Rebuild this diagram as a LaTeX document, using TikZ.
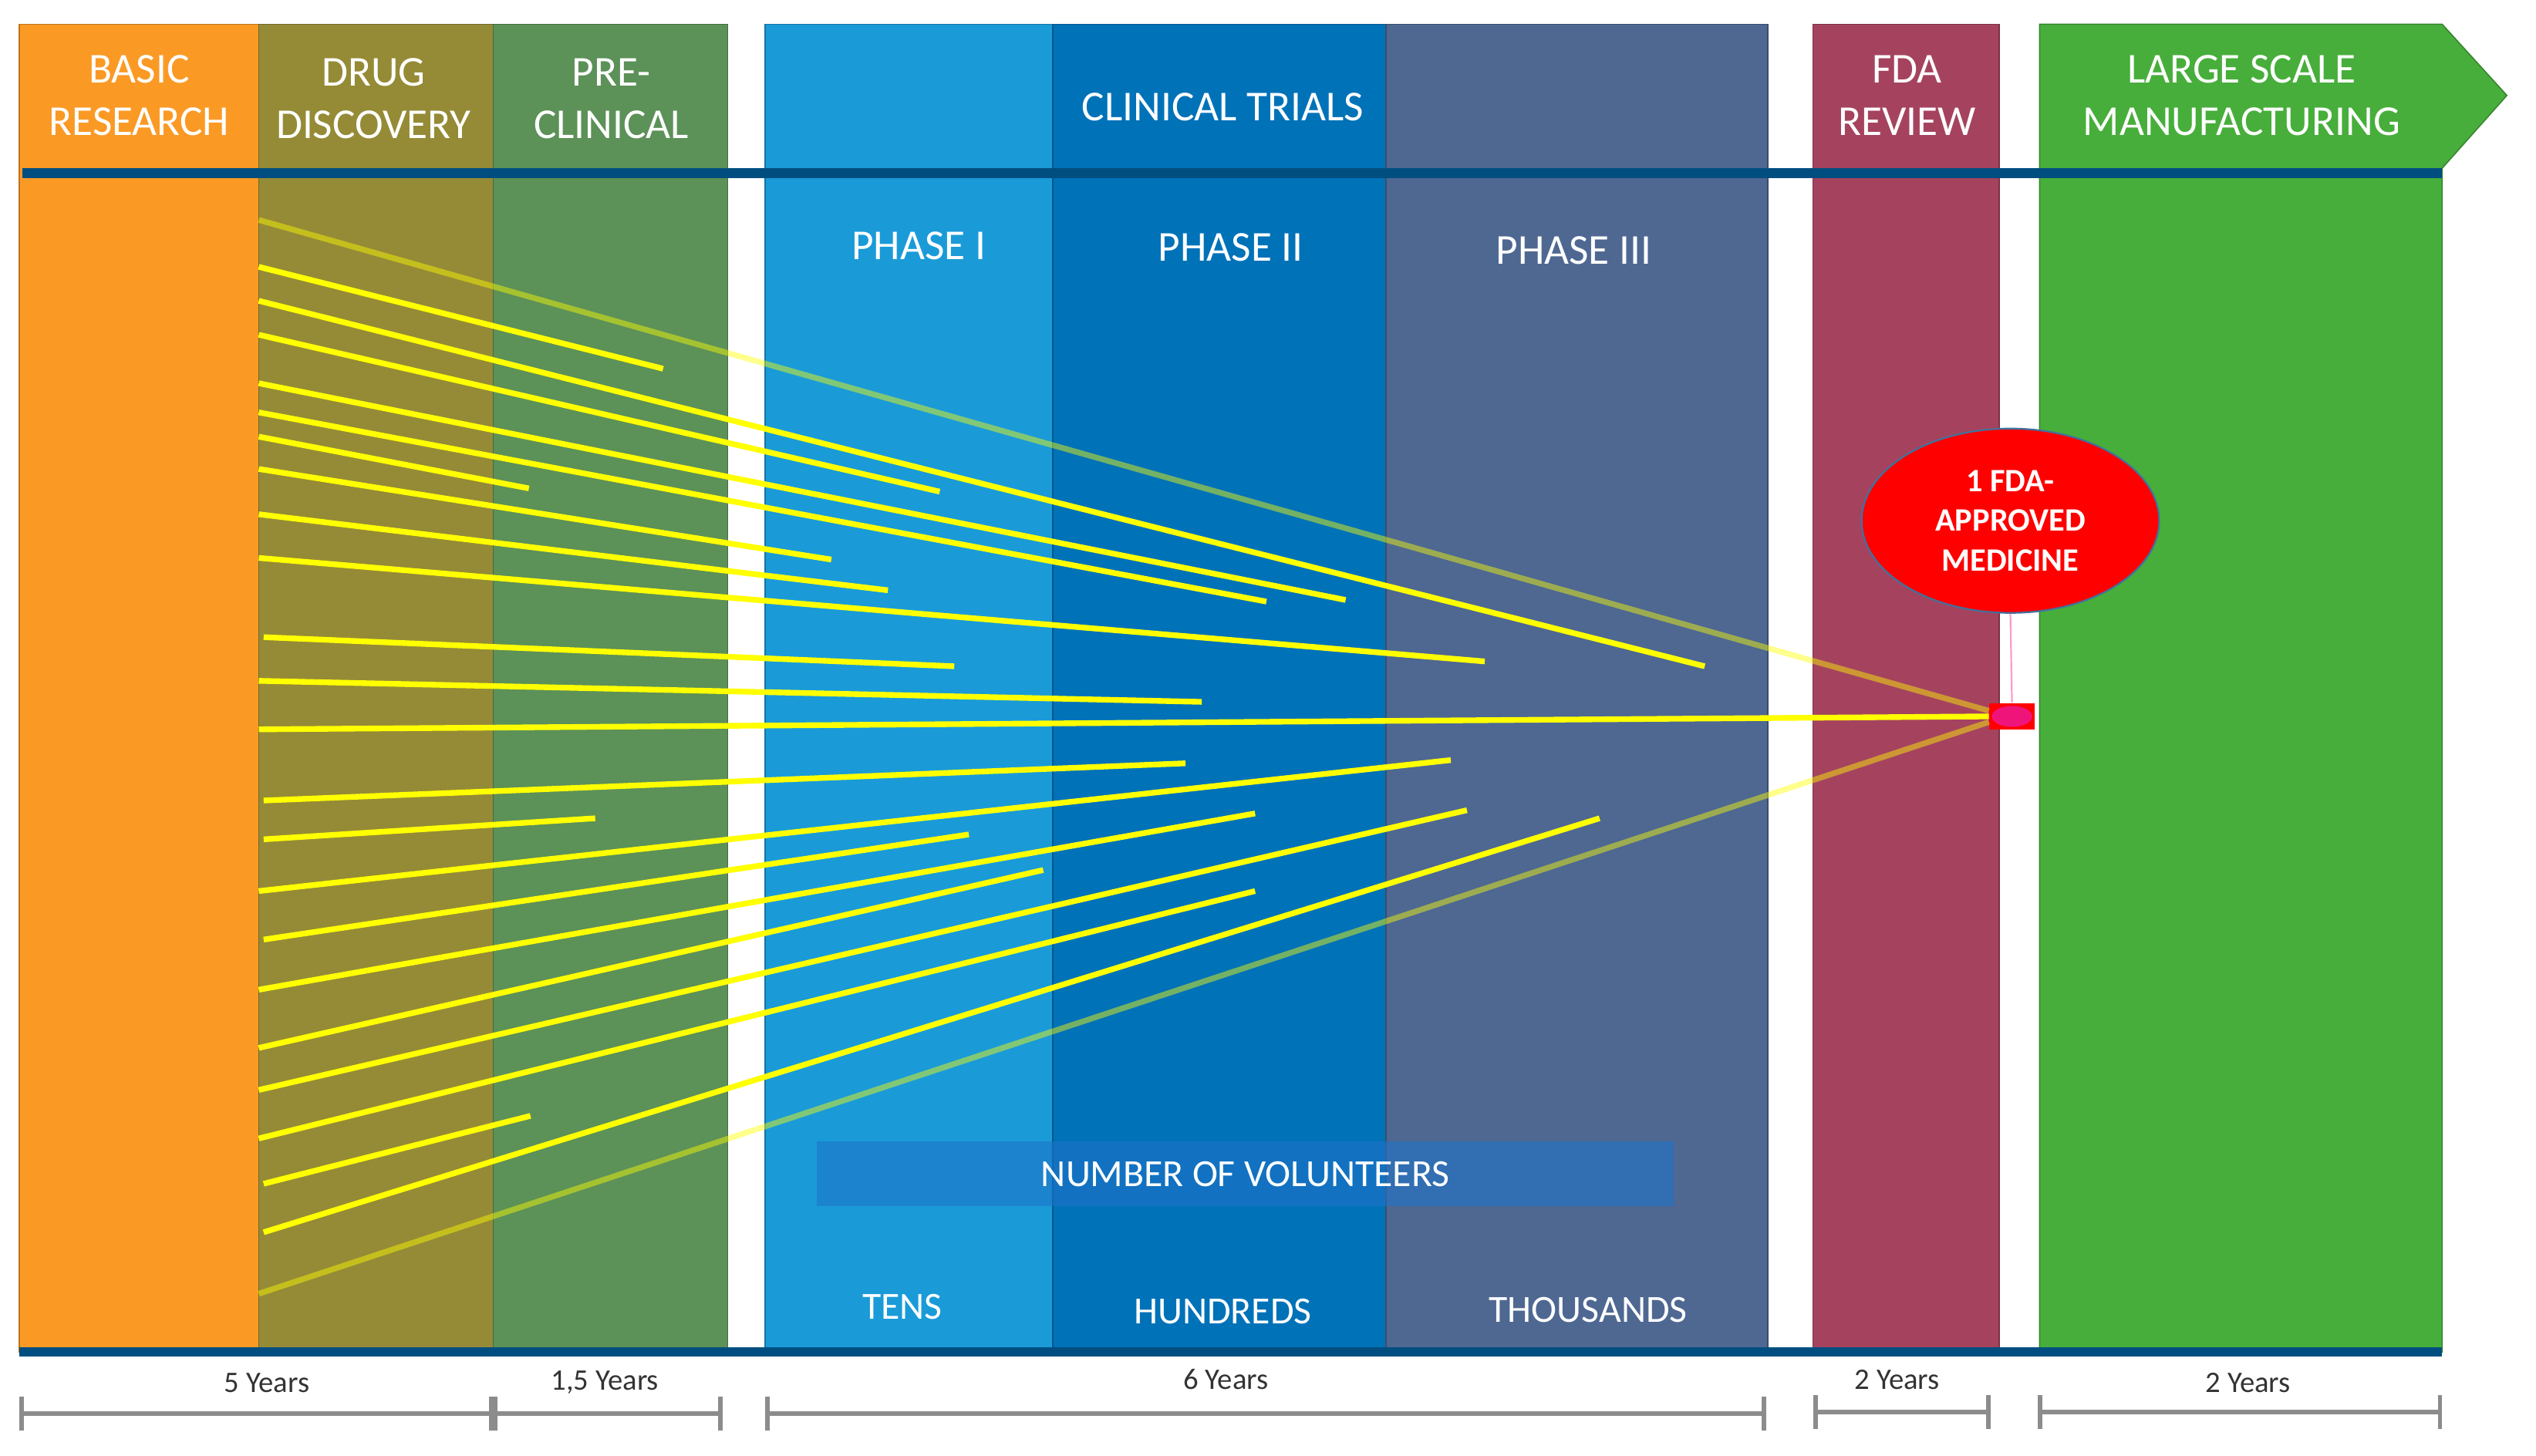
\documentclass[tikz,border=0pt]{standalone}
\usepackage{fontspec}
\setmainfont{Carlito}
\usetikzlibrary{shapes.geometric,arrows.meta}

\definecolor{basicorange}{RGB}{250,154,37}
\definecolor{drugolive}{RGB}{149,139,54}
\definecolor{preclingreen}{RGB}{92,145,88}
\definecolor{phaseone}{RGB}{26,155,216}
\definecolor{phasetwo}{RGB}{0,114,184}
\definecolor{phasethree}{RGB}{78,104,146}
\definecolor{fdamaroon}{RGB}{165,67,95}
\definecolor{mfggreen}{RGB}{71,174,59}
\definecolor{timelineblue}{RGB}{0,78,128}
\definecolor{volblue}{RGB}{30,115,200}
\definecolor{pipeyellow}{RGB}{255,255,0}
\definecolor{scalegray}{RGB}{140,140,140}
\definecolor{rimblue}{RGB}{65,113,156}
\definecolor{leadpink}{RGB}{255,153,204}
\definecolor{dotmagenta}{RGB}{238,20,122}

\begin{document}
\begin{tikzpicture}[
    x=0.02cm, y=-0.02cm,
    stagecol/.style={fill=#1, draw=#1!75!black, line width=0.4pt},
    header/.style={text=white, align=center, font=\fontsize{15}{18.5}\selectfont},
    volcount/.style={text=white, font=\fontsize{13.5}{16}\selectfont},
    pipeline/.style={pipeyellow, line width=2pt},
    fadeline/.style={pipeyellow, line width=2pt, opacity=0.45},
    timeline/.style={timelineblue, line width=3.4pt},
    yearspan/.style={scalegray, line width=1.6pt, {Bar[width=12pt]}-{Bar[width=12pt]}},
    yearlabel/.style={text=black!80, font=\fontsize{10.5}{12}\selectfont}
]
    \useasboundingbox (0,0) rectangle (1568,900);

    % stage columns
    \draw[stagecol=basicorange] (12,15) rectangle (160,836);
    \draw[stagecol=drugolive] (160,15) rectangle (305,836);
    \draw[stagecol=preclingreen] (305,15) rectangle (450,836);
    \draw[stagecol=phaseone] (473,15) rectangle (651,836);
    \draw[stagecol=phasetwo] (651,15) rectangle (857,836);
    \draw[stagecol=phasethree] (857,15) rectangle (1093,836);
    \draw[stagecol=fdamaroon] (1121,15) rectangle (1236,836);
    \draw[stagecol=mfggreen] (1261,15) -- (1510,15) -- (1550,59) -- (1510,104)
        -- (1510,836) -- (1261,836) -- cycle;

    \draw[timeline] (14,107) -- (1510,107);
    \draw[timeline] (12,836) -- (1510,836);

    % headers
    \node[header] (basic) at (86,59) {BASIC\\RESEARCH};
    \node[header] (drug) at (231,61) {DRUG\\DISCOVERY};
    \node[header] (precl) at (378,61) {PRE-\\CLINICAL};
    \node[header] (trials) at (756,66) {CLINICAL TRIALS};
    \node[header] (fda) at (1179,59) {FDA\\REVIEW};
    \node[header] (mfg) at (1386,59) {LARGE SCALE\\MANUFACTURING};
    \node[header] (ph1) at (568,152) {PHASE I};
    \node[header] (ph2) at (761,153) {PHASE II};
    \node[header] (ph3) at (973,155) {PHASE III};

    % volunteers
    \node[fill=volblue, fill opacity=0.6, text opacity=1, text=white,
        minimum width=10.6cm, minimum height=0.8cm,
        font=\fontsize{13.5}{16}\selectfont] (volunteers) at (770,726) {NUMBER OF VOLUNTEERS};
    \node[volcount] (tens) at (558,808) {TENS};
    \node[volcount] (hundreds) at (756,811) {HUNDREDS};
    \node[volcount] (thousands) at (982,810) {THOUSANDS};

    % candidates dropping out
    \foreach \xa/\ya/\xb/\yb in {160/165/410/228, 160/186/1054/412, 160/207/581/304,
        160/237/832/371, 160/255/783/372, 160/270/327/302, 160/290/514/346,
        160/318/549/365, 160/345/918/409, 163/394/590/412, 160/421/743/434,
        163/495/733/472, 163/519/368/506, 160/551/897/470, 163/581/599/516,
        160/612/776/503, 160/648/645/538, 160/674/907/501, 160/704/776/551,
        163/732/328/690, 163/762/989/506}
        \draw[pipeline] (\xa,\ya) -- (\xb,\yb);

    % approved medicine
    \node[ellipse, fill=red, draw=rimblue, line width=0.6pt, inner sep=0pt,
        minimum width=3.68cm, minimum height=2.28cm, text=white, align=center,
        font=\bfseries\fontsize{11.5}{14}\selectfont] (approved) at (1243,322) {1 FDA-\\APPROVED\\MEDICINE};
    \node[rectangle, fill=red, inner sep=0pt, minimum width=0.56cm, minimum height=0.32cm,
        path picture={\fill[dotmagenta] (path picture bounding box.center) ellipse (0.25cm and 0.13cm);}]
        (marker) at (1244,443) {};
    \draw[leadpink, line width=0.6pt] (approved.south) -- (marker.north);
    \draw[pipeline] (160,451) -- (marker.west);
    \draw[fadeline] (160,136) -- ([yshift=2pt]marker.west);
    \draw[fadeline] (160,800) -- ([yshift=-2pt]marker.west);

    % durations
    \node[yearlabel] (y1) at (165,855) {5 Years};
    \node[yearlabel] (y2) at (374,855) {1,5 Years};
    \node[yearlabel] (y3) at (758,853) {6 Years};
    \node[yearlabel] (y4) at (1173,853) {2 Years};
    \node[yearlabel] (y5) at (1390,855) {2 Years};
    \draw[yearspan] (12,874) -- (305,874);
    \draw[yearspan] (305,874) -- (447,874);
    \draw[yearspan] (473,874) -- (1092,874);
    \draw[yearspan] (1121,873) -- (1231,873);
    \draw[yearspan] (1260,873) -- (1510,873);
\end{tikzpicture}
\end{document}
